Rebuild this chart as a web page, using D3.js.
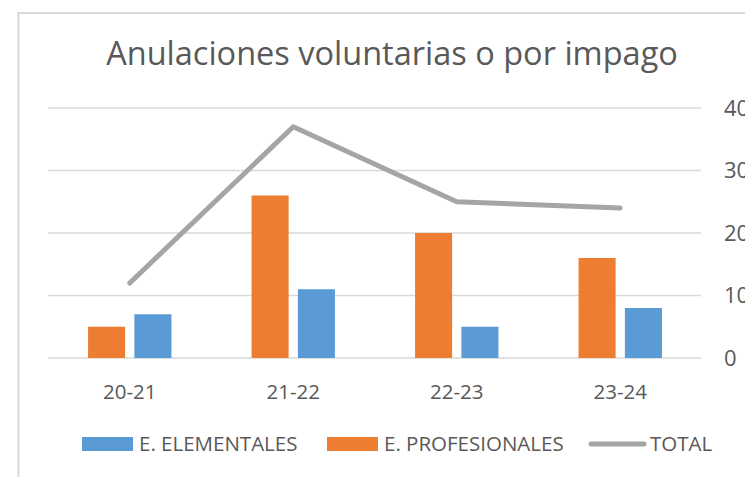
<!DOCTYPE html>
<meta charset="utf-8">
<html>
<head>
<style>
  body { margin: 0; background: #fff; }
  text { font-family: "Open Sans", sans-serif; fill: #595959; }
</style>
</head>
<body>
<script src="https://cdn.jsdelivr.net/npm/d3@7"></script>
<script>
// chart data
var categories = ["20-21", "21-22", "22-23", "23-24"];
var elementales = [7, 11, 5, 8];
var profesionales = [5, 26, 20, 16];
var total = [12, 37, 25, 24];
var yTicks = [0, 10, 20, 30, 40];

var width = 745, height = 477;
var svg = d3.select("body").append("svg")
    .attr("width", width)
    .attr("height", height);

// chart area outline (light grey, runs off the right and bottom)
svg.append("rect")
    .attr("x", 18.5).attr("y", 13)
    .attr("width", 760).attr("height", 500)
    .attr("fill", "none")
    .attr("stroke", "#d9d9d9")
    .attr("stroke-width", 2);

svg.append("text")
    .attr("x", 392).attr("y", 65)
    .attr("text-anchor", "middle")
    .style("font-size", "32.5px")
    .text("Anulaciones voluntarias o por impago");

var plot = { left: 48, right: 702, top: 108, bottom: 358 };

var x0 = d3.scaleBand().domain(categories).range([plot.left, plot.right]);
// bars sit in the middle half of each category band
var x1 = d3.scaleBand().domain(["prof", "elem"])
    .range([x0.bandwidth() * 0.245, x0.bandwidth() * 0.755])
    .paddingInner(0.2);
var y = d3.scaleLinear().domain([0, 40]).range([plot.bottom, plot.top]);

// gridlines
svg.append("g").selectAll("line")
    .data(yTicks)
    .enter().append("line")
    .attr("x1", plot.left).attr("x2", plot.right - 1)
    .attr("y1", function (d) { return y(d); })
    .attr("y2", function (d) { return y(d); })
    .attr("stroke", "#d9d9d9")
    .attr("stroke-width", 1.5);

// right axis labels
var yAxis = d3.axisRight(y).tickValues(yTicks).tickSize(0).tickPadding(0);
var ga = svg.append("g")
    .attr("transform", "translate(724,0)")
    .call(yAxis);
ga.select(".domain").remove();
ga.selectAll("text")
    .style("font-size", "22px")
    .style("font-family", "'Open Sans', sans-serif")
    .attr("fill", "#595959")
    .attr("text-anchor", "start");

// category labels
var xAxis = d3.axisBottom(x0).tickSize(0).tickPadding(0);
var gx = svg.append("g")
    .attr("transform", "translate(0,384)")
    .call(xAxis);
gx.select(".domain").remove();
gx.selectAll("text")
    .style("font-size", "20.5px")
    .style("font-family", "'Open Sans', sans-serif")
    .attr("fill", "#595959")
    .attr("dy", "0.71em");

var rows = categories.map(function (c, i) {
    return { cat: c, prof: profesionales[i], elem: elementales[i] };
});
var colors = { prof: "#ed7d31", elem: "#5b9bd5" };

var groups = svg.append("g").selectAll("g")
    .data(rows)
    .enter().append("g")
    .attr("transform", function (d) { return "translate(" + x0(d.cat) + ",0)"; });

groups.selectAll("rect")
    .data(function (d) { return ["prof", "elem"].map(function (k) { return { key: k, value: d[k] }; }); })
    .enter().append("rect")
    .attr("x", function (d) { return x1(d.key); })
    .attr("width", x1.bandwidth())
    .attr("y", function (d) { return y(d.value); })
    .attr("height", function (d) { return y(0) - y(d.value); })
    .attr("fill", function (d) { return colors[d.key]; });

// total line
var line = d3.line()
    .x(function (d, i) { return x0(categories[i]) + x0.bandwidth() / 2; })
    .y(function (d) { return y(d); });

svg.append("path")
    .datum(total)
    .attr("d", line)
    .attr("fill", "none")
    .attr("stroke", "#a5a5a5")
    .attr("stroke-width", 5)
    .attr("stroke-linecap", "round")
    .attr("stroke-linejoin", "round");

// legend
var legend = [
    { name: "E. ELEMENTALES", type: "bar", color: "#5b9bd5", x: 82 },
    { name: "E. PROFESIONALES", type: "bar", color: "#ed7d31", x: 327 },
    { name: "TOTAL", type: "line", color: "#a5a5a5", x: 589 }
];
var lg = svg.append("g").selectAll("g")
    .data(legend)
    .enter().append("g")
    .attr("transform", function (d) { return "translate(" + d.x + ",444)"; });

lg.filter(function (d) { return d.type === "bar"; })
    .append("rect")
    .attr("x", 0).attr("y", -7)
    .attr("width", 51).attr("height", 14)
    .attr("fill", function (d) { return d.color; });

lg.filter(function (d) { return d.type === "line"; })
    .append("line")
    .attr("x1", 2).attr("x2", 55)
    .attr("y1", 0).attr("y2", 0)
    .attr("stroke", function (d) { return d.color; })
    .attr("stroke-width", 5)
    .attr("stroke-linecap", "round");

lg.append("text")
    .attr("x", function (d) { return d.type === "bar" ? 57 : 61; })
    .attr("y", 0)
    .attr("dy", "0.36em")
    .style("font-size", "20.5px")
    .text(function (d) { return d.name; });
</script>
</body>
</html>
